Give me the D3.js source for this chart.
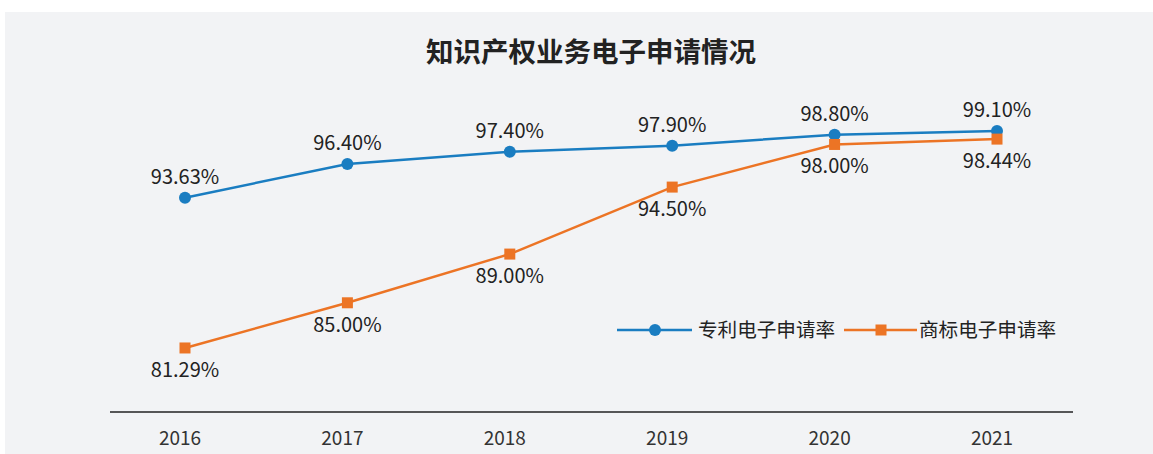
<!DOCTYPE html>
<html>
<head>
<meta charset="utf-8">
<script src="https://cdn.jsdelivr.net/npm/d3@7"></script>
<style>
    body { margin: 0; background: #fff; }
    svg text { font-family: "Noto Sans CJK SC", "Noto Sans", sans-serif; }
</style>
</head>
<body>
<div class="chart"></div>
<script>
const years = ["2016", "2017", "2018", "2019", "2020", "2021"]
const patentRate = [93.63, 96.40, 97.40, 97.90, 98.80, 99.10]
const trademarkRate = [81.29, 85.00, 89.00, 94.50, 98.00, 98.44]
const seriesNames = ["专利电子申请率", "商标电子申请率"]
const colors = ["#1a7dc1", "#ec7425"]

const width = 1153
const height = 454

const svg = d3.select(".chart")
    .append("svg")
    .attr("width", width)
    .attr("height", height)

// panel background
svg.append("rect")
    .attr("x", 5)
    .attr("y", 12)
    .attr("width", width - 5)
    .attr("height", height - 12)
    .attr("fill", "#f2f3f5")

svg.append("text")
    .text("知识产权业务电子申请情况")
    .attr("x", 591)
    .attr("y", 62)
    .attr("text-anchor", "middle")
    .attr("font-size", 27.5)
    .attr("font-weight", "bold")
    .attr("fill", "#222")

const x = d3.scalePoint()
    .domain(years)
    .range([185, 997])

const y = d3.scaleLinear()
    .domain([76, 100])
    .range([412.4, 120.1])

// x axis
svg.append("line")
    .attr("x1", 110)
    .attr("x2", 1073)
    .attr("y1", 412)
    .attr("y2", 412)
    .attr("stroke", "#222")
    .attr("stroke-width", 1.3)

svg.append("g")
    .selectAll("text")
    .data(years)
    .join("text")
    .attr("x", d => x(d) - 5)
    .attr("y", 445)
    .attr("text-anchor", "middle")
    .attr("font-size", 19)
    .attr("fill", "#333")
    .text(d => d)

const line = d3.line()
    .x((d, i) => x(years[i]))
    .y(d => y(d))

const series = [patentRate, trademarkRate]

series.forEach((vals, s) => {
    svg.append("path")
        .datum(vals)
        .attr("d", line)
        .attr("fill", "none")
        .attr("stroke", colors[s])
        .attr("stroke-width", 2.5)
})

// markers
svg.append("g")
    .selectAll("circle")
    .data(patentRate)
    .join("circle")
    .attr("cx", (d, i) => x(years[i]))
    .attr("cy", d => y(d))
    .attr("r", 6)
    .attr("fill", colors[0])

svg.append("g")
    .selectAll("rect")
    .data(trademarkRate)
    .join("rect")
    .attr("x", (d, i) => x(years[i]) - 5.5)
    .attr("y", d => y(d) - 5.5)
    .attr("width", 11)
    .attr("height", 11)
    .attr("fill", colors[1])

// value labels
svg.append("g")
    .selectAll("text")
    .data(patentRate)
    .join("text")
    .attr("x", (d, i) => x(years[i]))
    .attr("y", d => y(d) - 14)
    .attr("text-anchor", "middle")
    .attr("font-size", 20)
    .attr("fill", "#222")
    .text(d => d.toFixed(2) + "%")

svg.append("g")
    .selectAll("text")
    .data(trademarkRate)
    .join("text")
    .attr("x", (d, i) => x(years[i]))
    .attr("y", d => y(d) + 29)
    .attr("text-anchor", "middle")
    .attr("font-size", 20)
    .attr("fill", "#222")
    .text(d => d.toFixed(2) + "%")

// legend
const legend = svg.append("g")
    .selectAll("g")
    .data(seriesNames)
    .join("g")
    .attr("transform", (d, i) => `translate(${617 + i * 227}, 330)`)

legend.append("line")
    .attr("x1", 0)
    .attr("x2", (d, i) => i === 0 ? 75 : 73)
    .attr("stroke", (d, i) => colors[i])
    .attr("stroke-width", 2.5)

legend.filter((d, i) => i === 0)
    .append("circle")
    .attr("cx", 38)
    .attr("r", 6)
    .attr("fill", colors[0])

legend.filter((d, i) => i === 1)
    .append("rect")
    .attr("x", 31.5)
    .attr("y", -5.5)
    .attr("width", 11)
    .attr("height", 11)
    .attr("fill", colors[1])

legend.append("text")
    .attr("x", (d, i) => i === 0 ? 81 : 75)
    .attr("y", 7)
    .attr("font-size", 19.6)
    .attr("fill", "#222")
    .text(d => d)
</script>
</body>
</html>
